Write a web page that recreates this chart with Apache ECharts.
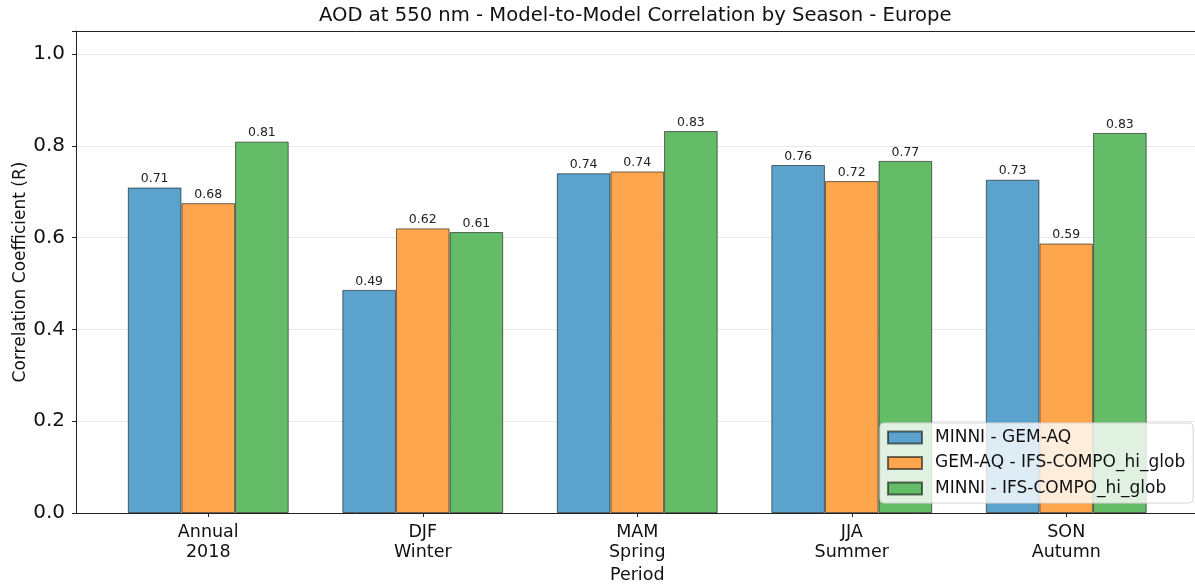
<!DOCTYPE html>
<html><head><meta charset="utf-8">
<script src="https://cdn.jsdelivr.net/npm/echarts@6/dist/echarts.min.js"></script>
<style>html,body{margin:0;padding:0;background:#fff}#c{width:1195px;height:585px}</style>
</head><body><div id="c"></div>
<script>
const categories = ['Annual\n2018', 'DJF\nWinter', 'MAM\nSpring', 'JJA\nSummer', 'SON\nAutumn'];
const seriesNames = ['MINNI - GEM-AQ', 'GEM-AQ - IFS-COMPO_hi_glob', 'MINNI - IFS-COMPO_hi_glob'];
const minniGem = [0.709, 0.486, 0.740, 0.758, 0.726];
const gemIfs = [0.675, 0.620, 0.744, 0.723, 0.587];
const minniIfs = [0.809, 0.612, 0.832, 0.767, 0.828];
const yTicks = [0, 0.2, 0.4, 0.6, 0.8, 1.0];
const colors = ['#5ba3cc', '#fda64d', '#64bb68'];

const font = 'DejaVu Sans';
const values = [minniGem, gemIfs, minniIfs];
const spine = {show: true, onZero: false, lineStyle: {color: '#222', width: 1}};
const chart = echarts.init(document.getElementById('c'), null, {renderer: 'canvas'});
chart.setOption({
  animation: false,
  textStyle: {fontFamily: font},
  title: {
    text: 'AOD at 550 nm - Model-to-Model Correlation by Season - Europe',
    left: 319, top: 6, padding: 0,
    textStyle: {fontFamily: font, fontSize: 19.6, fontWeight: 'normal', color: '#111'}
  },
  legend: {
    orient: 'vertical', left: 880, top: 423, padding: [6, 8, 6, 7],
    itemWidth: 34, itemHeight: 12, itemGap: 8.5, icon: 'rect',
    backgroundColor: 'rgba(255,255,255,0.8)', borderColor: '#d6d6d6', borderWidth: 1, borderRadius: 4,
    textStyle: {fontFamily: font, fontSize: 17, color: '#111', lineHeight: 17, padding: [0, 0, 0, 8]},
    data: seriesNames
  },
  grid: [
    {left: 101, width: 1072.5, top: 31, bottom: 72, outerBoundsMode: 'none', containLabel: false},
    {left: 76, width: 1122, top: 31, bottom: 72, show: false, outerBoundsMode: 'none', containLabel: false}
  ],
  xAxis: [
    {type: 'category', gridIndex: 0, data: categories,
     name: 'Period', nameLocation: 'middle', nameGap: 53, nameMoveOverlap: false,
     nameTextStyle: {fontFamily: font, fontSize: 17.5, color: '#111'},
     axisLine: {show: false},
     axisTick: {show: true, alignWithLabel: true, length: 4, lineStyle: {color: '#222'}},
     axisLabel: {fontFamily: font, fontSize: 17.5, lineHeight: 20, color: '#111', margin: 9}},
    {type: 'value', gridIndex: 1, position: 'bottom', min: 0, max: 1,
     axisLine: spine, axisTick: {show: false}, axisLabel: {show: false}, splitLine: {show: false}},
    {type: 'value', gridIndex: 1, position: 'top', min: 0, max: 1,
     axisLine: spine, axisTick: {show: false}, axisLabel: {show: false}, splitLine: {show: false}}
  ],
  yAxis: [
    {type: 'value', gridIndex: 0, min: 0, max: 1.05, show: false},
    {type: 'value', gridIndex: 1, min: 0, max: 1.05, interval: 0.2,
     name: 'Correlation Coefficient (R)', nameLocation: 'middle', nameGap: 47, nameMoveOverlap: false,
     nameTextStyle: {fontFamily: font, fontSize: 17, color: '#111'},
     axisLine: spine,
     axisTick: {show: true, length: 4, lineStyle: {color: '#222'}},
     axisLabel: {fontFamily: font, fontSize: 20, color: '#111', margin: 11,
       formatter: v => yTicks.some(t => Math.abs(t - v) < 1e-9) ? v.toFixed(1) : ''},
     splitLine: {show: true, lineStyle: {color: '#e8e8e8', width: 1}}}
  ],
  series: seriesNames.map((n, i) => ({
    name: n, type: 'bar', xAxisIndex: 0, yAxisIndex: 0,
    data: values[i], barWidth: '25%', barGap: '0%',
    itemStyle: {color: colors[i], borderColor: 'rgba(0,0,0,0.55)', borderWidth: 1},
    label: {show: true, position: 'top', distance: 2, fontFamily: font, fontSize: 12.5, color: '#222',
      formatter: p => p.value.toFixed(2)}
  }))
});
</script></body></html>
